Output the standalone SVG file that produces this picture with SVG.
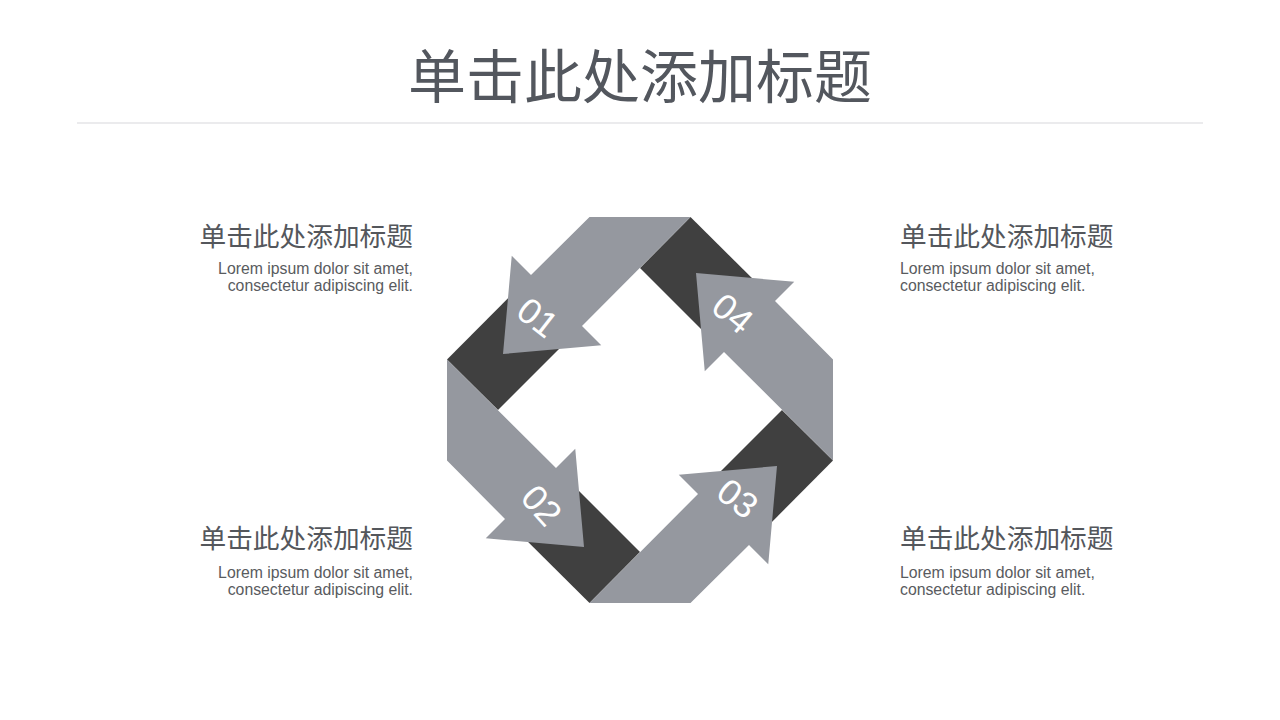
<svg xmlns="http://www.w3.org/2000/svg" width="1280" height="720" viewBox="0 0 1280 720">
<style>
.light{fill:#95989f}
.dark{fill:#404040}
.num{font-family:"Liberation Sans",Arial,sans-serif;font-size:36px;fill:#ffffff;text-anchor:middle}
.title{font-family:"Noto Sans CJK SC","Liberation Sans",sans-serif;font-size:58px;fill:#53575e;text-anchor:middle}
.head{font-family:"Noto Sans CJK SC","Liberation Sans",sans-serif;font-size:26.7px;fill:#54575c}
.body{font-family:"Liberation Sans",Arial,"Noto Sans CJK SC",sans-serif;font-size:15.8px;fill:#595b60}
.r{text-anchor:end}
</style>
<defs>
<polygon id="darkPart" points="447,359.5 498,410 582,326 531,275"/>
<polygon id="lightPart" points="589.5,217 690.5,217 582,326 601.25,345.25 503,354 511.75,255.75 531,275"/>
</defs>
<rect width="1280" height="720" fill="#ffffff"/>
<g id="title">
<text class="title" x="640" y="98">单击此处添加标题</text>
<line x1="77" y1="123" x2="1203" y2="123" stroke="#ebebed" stroke-width="2"/>
</g>
<g id="connectors">
<use href="#darkPart" class="dark"/>
<use href="#darkPart" class="dark" transform="rotate(-90 640 410)"/>
<use href="#darkPart" class="dark" transform="rotate(180 640 410)"/>
<use href="#darkPart" class="dark" transform="rotate(90 640 410)"/>
</g>
<g id="arrow1">
<use href="#lightPart" class="light"/>
<text class="num" transform="translate(538 317) rotate(38)" y="13">01</text>
</g>
<g id="arrow2">
<use href="#lightPart" class="light" transform="rotate(-90 640 410)"/>
<text class="num" transform="translate(542 505) rotate(48)" y="13">02</text>
</g>
<g id="arrow3">
<use href="#lightPart" class="light" transform="rotate(180 640 410)"/>
<text class="num" transform="translate(738 498) rotate(38)" y="13">03</text>
</g>
<g id="arrow4">
<use href="#lightPart" class="light" transform="rotate(90 640 410)"/>
<text class="num" transform="translate(733 313) rotate(40)" y="13">04</text>
</g>
<g id="item1">
<text class="head r" x="413" y="246">单击此处添加标题</text>
<text class="body r" x="413" y="274">Lorem ipsum dolor sit amet,</text>
<text class="body r" x="413" y="291">consectetur adipiscing elit.</text>
</g>
<g id="item2">
<text class="head r" x="413" y="548">单击此处添加标题</text>
<text class="body r" x="413" y="578">Lorem ipsum dolor sit amet,</text>
<text class="body r" x="413" y="595">consectetur adipiscing elit.</text>
</g>
<g id="item3">
<text class="head" x="900" y="548">单击此处添加标题</text>
<text class="body" x="900" y="578">Lorem ipsum dolor sit amet,</text>
<text class="body" x="900" y="595">consectetur adipiscing elit.</text>
</g>
<g id="item4">
<text class="head" x="900" y="246">单击此处添加标题</text>
<text class="body" x="900" y="274">Lorem ipsum dolor sit amet,</text>
<text class="body" x="900" y="291">consectetur adipiscing elit.</text>
</g>
</svg>
